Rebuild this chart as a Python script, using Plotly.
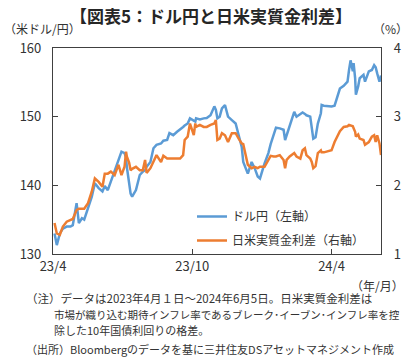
import plotly.graph_objects as go

dates = [
    "2023-04-03", "2023-04-06", "2023-04-10", "2023-04-14", "2023-04-19", "2023-04-24", "2023-04-27",
    "2023-05-02", "2023-05-05", "2023-05-09", "2023-05-12", "2023-05-17", "2023-05-22", "2023-05-26",
    "2023-05-31", "2023-06-05", "2023-06-08", "2023-06-12", "2023-06-16", "2023-06-21", "2023-06-26",
    "2023-06-30", "2023-07-04", "2023-07-06", "2023-07-07", "2023-07-10", "2023-07-12", "2023-07-14",
    "2023-07-19", "2023-07-24", "2023-07-28", "2023-07-31", "2023-08-02", "2023-08-07", "2023-08-11",
    "2023-08-15", "2023-08-21", "2023-08-24", "2023-08-29", "2023-09-01", "2023-09-06", "2023-09-11",
    "2023-09-15", "2023-09-19", "2023-09-21", "2023-09-25", "2023-09-28", "2023-10-03", "2023-10-05",
    "2023-10-06", "2023-10-11", "2023-10-16", "2023-10-20", "2023-10-25", "2023-10-30", "2023-11-01",
    "2023-11-03", "2023-11-06", "2023-11-09", "2023-11-13", "2023-11-17", "2023-11-22", "2023-11-27",
    "2023-12-01", "2023-12-05", "2023-12-07", "2023-12-11", "2023-12-13", "2023-12-18", "2023-12-22",
    "2023-12-26", "2023-12-29", "2024-01-04", "2024-01-09", "2024-01-12", "2024-01-16", "2024-01-19",
    "2024-01-24", "2024-01-29", "2024-01-31", "2024-02-02", "2024-02-06", "2024-02-12", "2024-02-15",
    "2024-02-20", "2024-02-23", "2024-02-26", "2024-02-28", "2024-03-04", "2024-03-06", "2024-03-08",
    "2024-03-11", "2024-03-13", "2024-03-14", "2024-03-18", "2024-03-19", "2024-03-22", "2024-03-27",
    "2024-04-01", "2024-04-05", "2024-04-08", "2024-04-12", "2024-04-17", "2024-04-22", "2024-04-24",
    "2024-04-26", "2024-04-29", "2024-04-30", "2024-05-02", "2024-05-03", "2024-05-06", "2024-05-08",
    "2024-05-13", "2024-05-15", "2024-05-20", "2024-05-24", "2024-05-27", "2024-05-29", "2024-05-31",
    "2024-06-03", "2024-06-04", "2024-06-05",
]

usdjpy = [
    133.0, 131.3, 133.0, 133.7, 134.0, 134.0, 134.2,
    137.4, 134.5, 135.2, 135.0, 136.6, 138.35, 140.3,
    139.6, 139.1, 139.9, 139.3, 140.5, 142.2, 143.7,
    144.9, 144.7, 144.0, 142.7, 140.3, 138.8, 138.35,
    139.3, 141.5, 142.0, 142.2, 142.7, 143.4, 145.4,
    145.9, 146.1, 146.5, 146.6, 147.6, 147.3, 147.8,
    148.1, 148.5, 148.7, 149.0, 149.75, 149.5, 149.3,
    149.75, 149.6, 149.75, 149.8, 150.2, 151.5, 151.0,
    149.75, 150.0, 151.2, 151.7, 150.0, 149.5, 149.0,
    147.3, 145.6, 143.4, 142.2, 141.7, 143.4, 142.5,
    141.3, 141.0, 143.2, 144.7, 146.0, 147.5, 148.4,
    148.3, 148.1, 146.6, 147.3, 148.8, 150.7, 150.0,
    150.3, 150.6, 150.4, 150.2, 150.0, 148.1, 146.8,
    147.0, 148.3, 149.0, 150.5, 151.7, 151.6, 151.5,
    151.5, 151.6, 152.8, 154.1, 154.5, 155.1, 156.8,
    158.2, 156.6, 157.8, 155.6, 153.2, 154.4, 155.6,
    156.1, 155.1, 156.6, 156.8, 157.5, 157.2, 156.3,
    155.1, 155.6, 156.0,
]

real_rate_diff = [
    1.45, 1.30, 1.28, 1.40, 1.47, 1.49, 1.51,
    1.64, 1.66, 1.66, 1.66, 1.74, 1.91, 2.10,
    2.05, 1.98, 2.17, 2.17, 2.20, 2.15, 2.30,
    2.15, 2.27, 2.49, 2.42, 2.33, 2.22, 2.24,
    2.27, 2.22, 2.22, 2.37, 2.18, 2.25, 2.34,
    2.44, 2.34, 2.43, 2.39, 2.39, 2.39, 2.39,
    2.39, 2.44, 2.66, 2.71, 2.90, 2.73, 2.90,
    2.85, 2.88, 2.85, 2.85, 2.88, 2.90, 2.95,
    2.66, 2.68, 2.76, 2.73, 2.63, 2.76, 2.76,
    2.68, 2.61, 2.60, 2.37, 2.30, 2.25, 2.27,
    2.25, 2.27, 2.27, 2.37, 2.43, 2.42, 2.42,
    2.44, 2.37, 2.25, 2.37, 2.42, 2.47, 2.42,
    2.39, 2.51, 2.54, 2.44, 2.39, 2.34, 2.25,
    2.28, 2.42, 2.47, 2.51, 2.48, 2.48, 2.50,
    2.51, 2.63, 2.71, 2.79, 2.85, 2.86, 2.88,
    2.87, 2.86, 2.83, 2.78, 2.71, 2.74, 2.68,
    2.66, 2.59, 2.63, 2.71, 2.73, 2.63, 2.73,
    2.61, 2.47, 2.44,
]

x_tickvals = ["2023-04-01", "2023-10-01", "2024-04-01"]
x_ticktext = ["23/4", "23/10", "24/4"]
y_left_ticks = [130, 140, 150, 160]
y_right_ticks = [1, 2, 3, 4]

FONT = "Noto Sans CJK JP"
TXT = "#333333"
AX = "#404040"

fig = go.Figure()
fig.add_trace(go.Scatter(
    x=dates, y=usdjpy, mode="lines", name="ドル円（左軸）",
    line=dict(color="#5B9BD5", width=2.5), legendgroup="a", yaxis="y"))
fig.add_trace(go.Scatter(
    x=dates, y=real_rate_diff, mode="lines", name="日米実質金利差（右軸）",
    line=dict(color="#ED7D31", width=2.5), legendgroup="b", yaxis="y2"))

W, H = 415, 364
L, R, T, B = 53, 381, 48, 254

fig.update_layout(
    width=W, height=H,
    margin=dict(l=L, r=W - R, t=T, b=H - B, pad=0),
    paper_bgcolor="white", plot_bgcolor="white",
    font=dict(family=FONT, size=13, color=TXT),
    showlegend=True,
    legend=dict(x=(192 - L) / (R - L), y=(254 - 202) / (B - T), xanchor="left", yanchor="top",
                bgcolor="rgba(0,0,0,0)", font=dict(size=12, color=TXT),
                traceorder="grouped", tracegroupgap=5, itemwidth=30),
    xaxis=dict(type="date", range=["2023-04-01", "2024-06-05"], tickvals=x_tickvals,
               ticktext=x_ticktext, ticks="inside", ticklen=5, tickcolor=AX,
               showline=True, linecolor=AX, linewidth=1.2, mirror=True, showgrid=False,
               zeroline=False, tickfont=dict(size=13, color=TXT)),
    yaxis=dict(range=[130, 160], tickvals=y_left_ticks, ticks="inside", ticklen=5,
               tickcolor=AX, showline=True, linecolor=AX, linewidth=1.2, showgrid=False,
               zeroline=False, ticklabelstandoff=8, tickfont=dict(size=13, color=TXT)),
    yaxis2=dict(range=[1, 4], tickvals=y_right_ticks, overlaying="y", side="right",
                ticks="inside", ticklen=5, tickcolor=AX, showline=True, linecolor=AX,
                linewidth=1.2, showgrid=False, zeroline=False, ticklabelstandoff=9,
                tickfont=dict(size=13, color=TXT)),
)

def px(xp):
    return (xp - L) / (R - L)

def py(yp):
    return (B - yp) / (B - T)

annots = [
    dict(text="<b>【図表5：ドル円と日米実質金利差】</b>", x=px(211), y=py(15), xanchor="center",
         yanchor="middle", font=dict(size=17, color="#262626")),
    dict(text="（米ドル/円）", x=px(2), y=py(28), xanchor="left", yanchor="middle",
         font=dict(size=12, color=TXT)),
    dict(text="（%）", x=px(410), y=py(28), xanchor="right", yanchor="middle",
         font=dict(size=12, color=TXT)),
    dict(text="（年/月）", x=px(406), y=py(285), xanchor="right", yanchor="middle",
         font=dict(size=12, color=TXT)),
    dict(text="（注）データは2023年4月１日～2024年6月5日。日米実質金利差は", x=px(24), y=py(298),
         xanchor="left", yanchor="middle", font=dict(size=11.5, color=TXT)),
    dict(text="市場が織り込む期待インフレ率であるブレーク･イーブン･インフレ率を控", x=px(52), y=py(314),
         xanchor="left", yanchor="middle", font=dict(size=10.5, color=TXT)),
    dict(text="除した10年国債利回りの格差。", x=px(52), y=py(330),
         xanchor="left", yanchor="middle", font=dict(size=11, color=TXT)),
    dict(text="（出所）Bloombergのデータを基に三井住友DSアセットマネジメント作成", x=px(24), y=py(349),
         xanchor="left", yanchor="middle", font=dict(size=11, color=TXT)),
]
for a in annots:
    fig.add_annotation(xref="paper", yref="paper", showarrow=False, **a)

fig.write_html("out.html", config={"displayModeBar": False},
               post_script="document.body.style.margin='0';")
